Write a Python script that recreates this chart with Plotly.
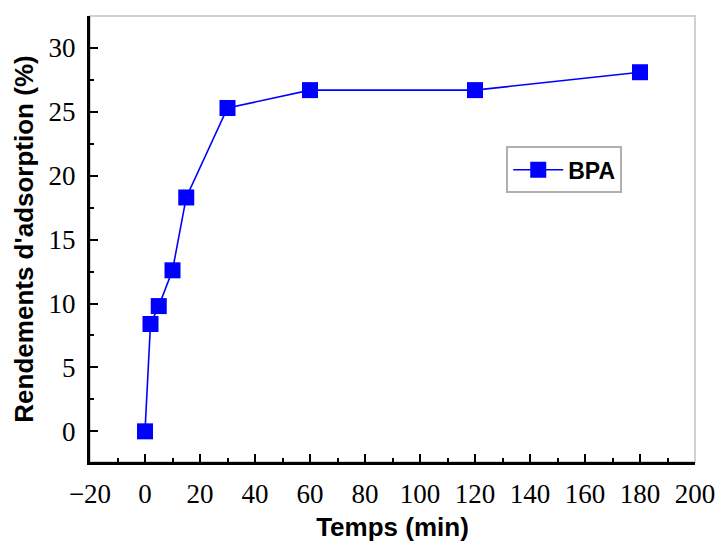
import plotly.graph_objects as go

temps = [0, 2, 5, 10, 15, 30, 60, 120, 180]
rendement = [0, 8.4, 9.8, 12.6, 18.3, 25.3, 26.7, 26.7, 28.1]
series_name = "BPA"
x_title = "Temps (min)"
y_title = "Rendements d'adsorption (%)"

fig = go.Figure()
fig.add_trace(go.Scatter(
    x=temps, y=rendement, name=series_name, mode="lines+markers",
    line=dict(color="#0000ff", width=1.6),
    marker=dict(symbol="square", size=16, color="#0000ff"),
    showlegend=True,
))

tickfont = dict(family="Liberation Serif", size=27, color="black")
titlefont = dict(family="Liberation Sans", size=26, color="black", weight="bold")

# page body has an 8px default margin, so the plot is shifted by 8px
fig.update_layout(
    width=723, height=544,
    margin=dict(l=82, r=36, t=8, b=90, autoexpand=False),
    paper_bgcolor="white", plot_bgcolor="white",
    showlegend=True,
    legend=dict(x=0.688, y=0.708, xanchor="left", yanchor="top",
                bordercolor="#b0b0b0", borderwidth=2, bgcolor="white",
                font=dict(family="Liberation Sans", size=23, color="black", weight="bold"),
                itemwidth=50, tracegroupgap=0),
    shapes=[dict(type="rect", xref="paper", yref="paper", x0=0, y0=0, x1=1, y1=1,
                 line=dict(color="#d0d0d0", width=2), layer="below")],
)
fig.update_xaxes(
    range=[-20, 200], tick0=-20, dtick=20, showgrid=False, zeroline=False,
    showline=True, linecolor="black", linewidth=3, automargin=False,
    ticks="inside", ticklen=8, tickwidth=2, tickcolor="black",
    minor=dict(dtick=10, ticks="inside", ticklen=4, tickwidth=2, tickcolor="black"),
    tickfont=tickfont, ticklabelstandoff=6,
    title=dict(text=x_title, font=titlefont, standoff=10),
)
fig.update_yaxes(
    range=[-2.4, 32.5], tick0=0, dtick=5, showgrid=False, zeroline=False,
    showline=True, linecolor="black", linewidth=3, automargin=False,
    ticks="inside", ticklen=8, tickwidth=2, tickcolor="black",
    minor=dict(dtick=2.5, ticks="inside", ticklen=4, tickwidth=2, tickcolor="black"),
    tickfont=tickfont, ticklabelstandoff=6,
    title=dict(text=y_title, font=titlefont, standoff=8),
)
fig.write_html("out.html")
